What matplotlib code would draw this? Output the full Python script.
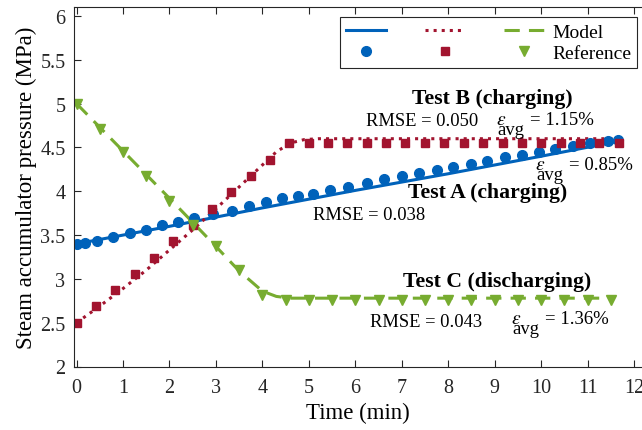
# steam accumulator pressure: model vs reference for three tests

import matplotlib.pyplot as plt

plt.rcParams['font.family'] = ['Liberation Serif', 'DejaVu Serif']
plt.rcParams['mathtext.fontset'] = 'stix'

# Test A (charging) - reference points
tA_ref = [0, 0.18, 0.43, 0.79, 1.15, 1.49, 1.84, 2.19, 2.53, 2.94, 3.34, 3.72,
          4.08, 4.42, 4.77, 5.09, 5.46, 5.84, 6.25, 6.62, 7.01, 7.37, 7.76, 8.10,
          8.49, 8.84, 9.22, 9.59, 9.96, 10.30, 10.69, 11.05, 11.44, 11.66]
pA_ref = [3.40, 3.41, 3.43, 3.48, 3.52, 3.56, 3.61, 3.65, 3.69, 3.74, 3.78, 3.83,
          3.88, 3.92, 3.95, 3.97, 4.02, 4.05, 4.09, 4.14, 4.17, 4.21, 4.24, 4.28,
          4.31, 4.35, 4.39, 4.41, 4.45, 4.48, 4.52, 4.55, 4.57, 4.59]
# Test A model
tA_mod = [0, 2, 4, 6, 8, 10, 11.66]
pA_mod = [3.40, 3.60, 3.81, 4.01, 4.20, 4.40, 4.57]

# Test B (charging)
tB_ref = [0, 0.42, 0.83, 1.25, 1.67, 2.08, 2.5, 2.92, 3.33, 3.75, 4.17, 4.58,
          5.0, 5.42, 5.83, 6.25, 6.67, 7.08, 7.5, 7.92, 8.33, 8.75, 9.17, 9.58,
          10.0, 10.42, 10.83, 11.25, 11.67]
pB_ref = [2.50, 2.69, 2.87, 3.06, 3.24, 3.43, 3.62, 3.80, 3.99, 4.18, 4.36, 4.55,
          4.55, 4.55, 4.55, 4.55, 4.55, 4.55, 4.55, 4.55, 4.55, 4.55, 4.55, 4.55,
          4.55, 4.55, 4.55, 4.55, 4.55]
tB_mod = [0, 0.5, 1, 1.5, 2, 2.5, 3, 3.5, 4, 4.3, 4.6, 4.9, 5.2, 11.66]
pB_mod = [2.50, 2.69, 2.89, 3.10, 3.33, 3.56, 3.80, 4.05, 4.30, 4.45, 4.55, 4.59, 4.60, 4.60]

# Test C (discharging)
tC_ref = [0, 0.5, 1, 1.5, 2, 2.5, 3, 3.5, 4, 4.5, 5, 5.5, 6, 6.5, 7, 7.5, 8,
          8.5, 9, 9.5, 10, 10.5, 11, 11.5]
pC_ref = [5.00, 4.71, 4.45, 4.17, 3.89, 3.62, 3.37, 3.10, 2.82, 2.76, 2.76, 2.76,
          2.76, 2.76, 2.76, 2.76, 2.76, 2.76, 2.76, 2.76, 2.76, 2.76, 2.76, 2.76]
tC_mod = [0, 1, 2, 3, 3.5, 4, 4.3, 4.6, 11.5]
pC_mod = [5.00, 4.46, 3.92, 3.37, 3.09, 2.86, 2.80, 2.78, 2.78]

blue = '#0062BA'
red = '#A2142F'
green = '#77AC30'

fig = plt.figure(figsize=(6.42, 4.31), dpi=100)
ax = fig.add_axes([73.8 / 642, 1 - 367.5 / 431, (642 - 73.8) / 642, (367.5 - 8.3) / 431])

lA, = ax.plot(tA_mod, pA_mod, '-', color=blue, lw=2.2)
lB, = ax.plot(tB_mod, pB_mod, ':', color=red, lw=2.2)
lC, = ax.plot(tC_mod, pC_mod, '--', color=green, lw=2.2, dashes=(5, 3))
mA, = ax.plot(tA_ref, pA_ref, 'o', color=blue, ms=7, ls='none')
mB, = ax.plot(tB_ref, pB_ref, 's', color=red, ms=6.3, ls='none')
mC, = ax.plot(tC_ref, pC_ref, 'v', color=green, ms=7.5, ls='none')

ax.set_xlim(-0.06, -0.06 + (642 - 73.8) / 46.45)
ax.set_ylim(2, 6.1)
ax.set_xticks(range(0, 13))
ax.set_yticks([2, 2.5, 3, 3.5, 4, 4.5, 5, 5.5, 6])
ax.set_yticklabels(['2', '2.5', '3', '3.5', '4', '4.5', '5', '5.5', '6'])
ax.tick_params(direction='in', top=True, length=5, labelsize=14.5, colors='#262626')
ax.tick_params(axis='x', pad=8)
ax.tick_params(axis='y', pad=6)
ax.spines['right'].set_visible(False)
for s in ['left', 'bottom', 'top']:
    ax.spines[s].set_color('#262626')
    ax.spines[s].set_linewidth(0.8)

ax.set_xlabel('Time (min)', fontsize=16.5, labelpad=4)
ax.set_ylabel('Steam accumulator pressure (MPa)', fontsize=16.5, labelpad=2)

leg = ax.legend([lA, mA, lB, mB, lC, mC], ['', '', '', '', 'Model', 'Reference'],
                ncol=3, loc='upper right', fontsize=14, handlelength=2.06,
                columnspacing=1.6, handletextpad=0.41, labelspacing=0.2,
                borderpad=0.3, borderaxespad=0, fancybox=False,
                edgecolor='#262626', framealpha=1)
leg.set_bbox_to_anchor((637 / 642, 1 - 18.3 / 431), transform=fig.transFigure)
leg.get_frame().set_linewidth(0.8)


def eps_avg(x, y, value):
    # epsilon with a dropped, full-size "avg" subscript
    ax.text(x, y, r'$\epsilon$', fontsize=14, ha='left', va='baseline')
    ax.annotate('avg', (x, y), xytext=(1, -10), textcoords='offset pixels',
                fontsize=13.5, ha='left', va='baseline')
    ax.annotate('= ' + value, (x, y), xytext=(34, 0), textcoords='offset pixels',
                fontsize=13.5, ha='left', va='baseline')


# annotations
ax.text(8.94, 5.07, 'Test B (charging)', fontsize=15.7, fontweight='bold', ha='center', va='center')
ax.text(6.23, 4.81, 'RMSE = 0.050', fontsize=13.3, ha='left', va='center')
eps_avg(9.03, 4.77, '1.15%')
eps_avg(9.87, 4.25, '0.85%')
ax.text(8.84, 3.99, 'Test A (charging)', fontsize=15.7, fontweight='bold', ha='center', va='center')
ax.text(5.09, 3.74, 'RMSE = 0.038', fontsize=13.3, ha='left', va='center')
ax.text(9.05, 2.98, 'Test C (discharging)', fontsize=15.7, fontweight='bold', ha='center', va='center')
ax.text(6.32, 2.51, 'RMSE = 0.043', fontsize=13.3, ha='left', va='center')
eps_avg(9.35, 2.50, '1.36%')

fig.savefig('out.png', dpi=100)
